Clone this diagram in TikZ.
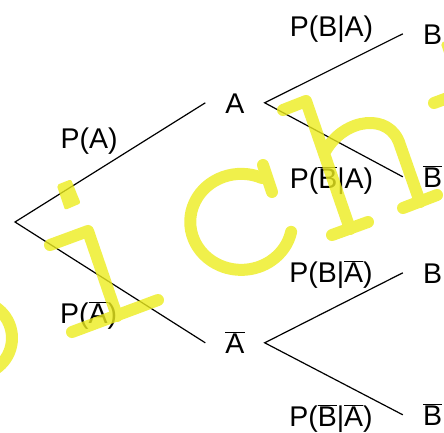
\documentclass[tikz,border=0pt]{standalone}
\usepackage{fontspec}
\setmainfont{Liberation Sans}
\definecolor{wmyellow}{RGB}{236,236,30}
\newcommand\ovl[1]{$\overline{\mbox{#1}}$}
\begin{document}
\begin{tikzpicture}[x=1pt,y=-1pt,
  lbl/.style={font=\fontsize{28.5}{30}\selectfont, inner sep=0pt, anchor=base},
  st/.style={font=\fontsize{28.5}{30}\selectfont, inner ysep=0pt, inner xsep=20pt,
             text height=20.4pt, text depth=0pt, anchor=base},
  edge/.style={black, line width=1.2pt},
  wm/.style={draw=wmyellow, line width=12pt, line cap=round, line join=round},
  wmfill/.style={fill=wmyellow, rounded corners=2pt}]
\useasboundingbox (0,0) rectangle (444,432);
\clip (0,0) rectangle (444,432);

% tree
\coordinate (root) at (15,222);
\node[st] (A)  at (235,113) {A};
\node[st] (nA) at (235,353) {\ovl{A}};
\node[st] (B1) at (432.5,44) {B};
\node[st] (B2) at (432.5,187) {\ovl{B}};
\node[st] (B3) at (432.5,283) {B};
\node[st] (B4) at (432.5,425) {\ovl{B}};

\node[lbl] (pA)   at (89,148)  {P(A)};
\node[lbl] (pnA)  at (88.5,323) {P(\ovl{A})};
\node[lbl] (pBA)  at (331.5,36) {P(B|A)};
\node[lbl] (pnBA) at (331.5,188) {P(\ovl{B}|A)};
\node[lbl] (pBnA) at (331,282) {P(B|\ovl{A})};
\node[lbl] (pnBnA) at (331,426) {P(\ovl{B}|\ovl{A})};

\draw[edge] (A.west) -- (root) -- (nA.west);
\draw[edge] (B1.west) -- (A.east) -- (B2.west);
\draw[edge] (B3.west) -- (nA.east) -- (B4.west);

% watermark
\begin{scope}[transparency group, opacity=0.8]
  % p (partial)
  \draw[wm] (-25,338) circle (37);
  % i
  \fill[wmfill] (56.7,185) -- (71,179.3) -- (80.7,203.3) -- (65,210) -- cycle;
  \draw[wm] (50,245) -- (88,231) -- (117,316);
  \draw[wm] (72,332) -- (158,300);
  % c
  \draw[wm] (262,178) arc[start angle=-66, end angle=-348, x radius=51, y radius=48];
  \draw[wm] (263,165) -- (272,192);
  % h
  \draw[wm] (283,110) -- (306,101) -- (350,229);
  \draw[wm] (332,235) -- (368,222);
  \draw[wm] (326,150) .. controls (345,118) and (390,112) .. (400,145) -- (420,202);
  \draw[wm] (403,208) -- (437,195);
  % i (partial)
  \fill[wmfill] (440.7,43) -- (455,37.3) -- (464.7,61.3) -- (449,68) -- cycle;
  \draw[wm] (434,103) -- (472,89) -- (501,174);
\end{scope}
\end{tikzpicture}
\end{document}
